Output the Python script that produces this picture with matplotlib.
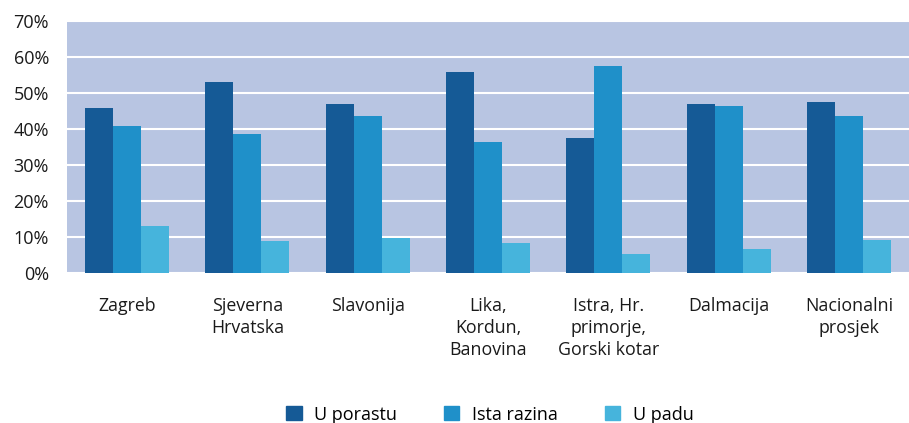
import numpy as np
import matplotlib.pyplot as plt
from matplotlib.patches import Patch

plt.rcParams['font.family'] = ['Open Sans', 'DejaVu Sans']

regions = ['Zagreb', 'Sjeverna\nHrvatska', 'Slavonija', 'Lika,\nKordun,\nBanovina',
           'Istra, Hr.\nprimorje,\nGorski kotar', 'Dalmacija', 'Nacionalni\nprosjek']
u_porastu = [45.8, 53.0, 46.9, 55.8, 37.5, 46.9, 47.5]
ista_razina = [40.8, 38.6, 43.6, 36.4, 57.5, 46.4, 43.6]
u_padu = [13.1, 8.9, 9.7, 8.3, 5.3, 6.7, 9.2]
series_names = ['U porastu', 'Ista razina', 'U padu']
colors = ['#155a96', '#1f90c9', '#46b4dc']

fig = plt.figure(figsize=(9.09, 4.23), dpi=100)
ax = fig.add_axes([67/909, 1-273/423, 842/909, 252/423])
ax.set_facecolor('#b8c5e2')

x = np.arange(len(regions))
w = 0.233
for i, vals in enumerate([u_porastu, ista_razina, u_padu]):
    ax.bar(x + (i-1)*w, vals, w, color=colors[i], zorder=3)

ax.set_xlim(-0.5, len(regions)-0.5)
ax.set_ylim(0, 70)
ax.set_yticks(range(0, 71, 10))
ax.set_yticklabels([f'{v}%' for v in range(0, 71, 10)], fontsize=13, color='#1a1a1a')
ax.set_xticks(x)
ax.set_xticklabels(regions, fontsize=12.8, color='#1a1a1a', va='top', linespacing=1.3)
ax.tick_params(axis='both', length=0)
ax.tick_params(axis='x', pad=17)
ax.tick_params(axis='y', pad=13)
ax.yaxis.grid(True, color='white', linewidth=1.5, zorder=1)
for s in ax.spines.values():
    s.set_visible(False)

handles = [Patch(color=c) for c in colors]
fig.legend(handles, series_names, loc='center', bbox_to_anchor=(490/909, 0.02), ncol=3,
           frameon=False, fontsize=13, handlelength=0.85, handleheight=0.85,
           columnspacing=2.6, handletextpad=0.7)

fig.savefig('out.png', dpi=100)
